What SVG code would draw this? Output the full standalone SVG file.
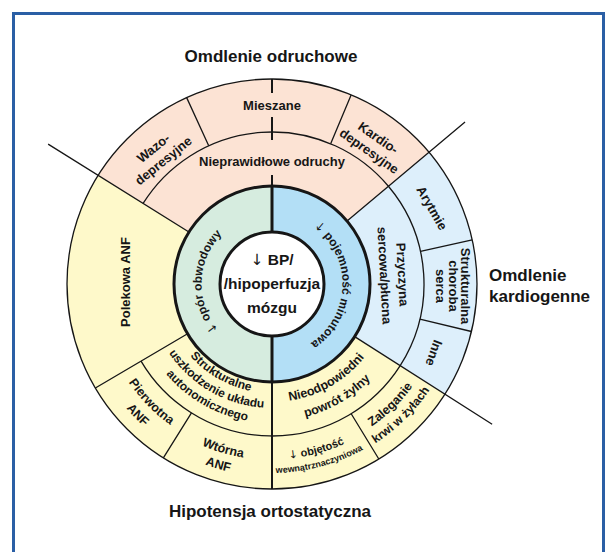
<svg xmlns="http://www.w3.org/2000/svg" width="608" height="552" viewBox="0 0 608 552">
<style>
text { font-family: "Liberation Sans", Arial, sans-serif; font-weight: bold; fill: #161616; font-size: 13px; text-anchor: middle; }
.ar { font-family: "DejaVu Sans", sans-serif; font-weight: normal; }
.title { font-size: 17px; }
.ctr { font-size: 15.5px; }
.ring { font-size: 12px; }
.s12 { font-size: 12px; }
.s125 { font-size: 12.5px; }
.s11 { font-size: 11px; }
.s9 { font-size: 9px; }
.ln { stroke: #161616; stroke-width: 1.3; fill: none; }
.vl { stroke: #161616; stroke-width: 2; fill: none; }
.tk { stroke: #161616; stroke-width: 3; fill: none; }
</style>
<defs>
<path id="pL" d="M245.59,349.37 A70.5,70.5 0 0 1 250.22,216.95"/>
<path id="pR" d="M297.84,218.41 A70.5,70.5 0 0 1 294.37,350.86"/>
<path id="s1" d="M166.71,312.21 A109,109 0 0 0 300.21,389.29"/>
<path id="s2" d="M152.23,316.09 A124,124 0 0 0 304.09,403.77"/>
<path id="s3" d="M137.74,319.97 A139,139 0 0 0 307.97,418.26"/>
<path id="n1" d="M241.46,397.98 A118,118 0 0 0 385.98,314.54"/>
<path id="n2" d="M236.54,416.33 A137,137 0 0 0 404.33,319.46"/>
<path id="p1" d="M98.49,297.05 A174.5,174.5 0 0 0 254.72,457.14"/>
<path id="p2" d="M81.04,298.36 A191.5,191.5 0 0 0 252.98,474.55"/>
<path id="w1" d="M125.23,381.13 A176,176 0 0 0 342.17,445.41"/>
<path id="w2" d="M111.47,390.24 A192.5,192.5 0 0 0 348.75,460.54"/>
<path id="o1" d="M197.83,443.06 A175.5,175.5 0 0 0 415.77,384.67"/>
<path id="o2" d="M192.13,455.29 A189,189 0 0 0 426.83,392.41"/>
<path id="z1" d="M285.65,457.46 A174,174 0 0 0 445.20,300.68"/>
<path id="z2" d="M286.91,473.41 A190,190 0 0 0 461.13,302.21"/>
</defs>
<rect width="608" height="552" fill="#ffffff"/>
<rect x="13.5" y="13.5" width="590" height="560" fill="none" stroke="#2a5fa5" stroke-width="3"/>

<g id="background">
<circle cx="272" cy="284" r="205" fill="#fef9ca"/>
<path id="sector-reflex" d="M98.16,175.37 A205,205 0 0 1 429.04,152.23 L347.07,221.01 A98,98 0 0 0 188.90,232.07 Z" fill="#fce3d4"/>
<path id="sector-cardiac" d="M429.04,152.23 A205,205 0 0 1 444.90,394.15 L354.65,336.66 A98,98 0 0 0 347.07,221.01 Z" fill="#ddeffb"/>
<circle cx="272" cy="284" r="205" class="ln" stroke-width="1.5"/>
</g>

<g id="connectors">
<path class="ln" d="M143.10,203.46 A152,152 0 0 1 388.43,186.29 A152,152 0 0 1 400.20,365.67 M141.04,361.14 A152,152 0 0 0 400.20,365.67"/>
<path class="ln" d="M48.13,144.11 L188.90,232.07 M465.03,122.01 L347.07,221.01 M492.13,424.24 L354.65,336.66 M95.37,388.04 L187.56,333.74"/>
<path class="ln" d="M208.72,145.80 L186.66,97.61 M330.66,143.78 L351.11,94.89 M420.46,251.37 L472.22,239.99 M419.87,319.22 L471.42,331.50 M191.46,412.90 L163.37,457.84 M351.19,413.73 L378.81,458.97"/>
<path class="vl" d="M272,79 V93 M272,117 V140 M272,175 V187 M272,381 V489"/>
</g>

<g id="ring">
<circle cx="272" cy="284" r="98" fill="#d6ecdf"/>
<path d="M272,186 A98,98 0 0 1 272,382 Z" fill="#b3dff6"/>
<circle cx="272" cy="284" r="98" class="tk"/>
<path class="tk" d="M272,186 V233 M272,335 V382"/>
</g>

<g id="center">
<circle cx="272" cy="284" r="52" class="tk" style="fill:#ffffff"/>
<text class="ctr" x="272" y="265"><tspan class="ar">↓</tspan> BP/</text>
<text class="ctr" x="272" y="289">/hipoperfuzja</text>
<text class="ctr" x="272" y="313">mózgu</text>
</g>

<g id="ring-labels">
<text class="ring"><textPath href="#pL" startOffset="50%"><tspan class="ar">↓</tspan> opór obwodowy</textPath></text>
<text class="ring"><textPath href="#pR" startOffset="50%"><tspan class="ar">↓</tspan> pojemność minutowa</textPath></text>
</g>

<g id="titles">
<text class="title" x="271" y="62">Omdlenie odruchowe</text>
<text class="title" x="489" y="281" style="text-anchor:start">Omdlenie</text>
<text class="title" x="489" y="302" style="text-anchor:start">kardiogenne</text>
<text class="title" x="270" y="517">Hipotensja ortostatyczna</text>
</g>

<g id="reflex">
<text x="272" y="110">Mieszane</text>
<text x="272" y="166">Nieprawidłowe odruchy</text>
<text transform="translate(158,154) rotate(-39)"><tspan x="0" y="-3">Wazo-</tspan><tspan x="0" y="13">depresyjne</tspan></text>
<text transform="translate(374,144) rotate(35)"><tspan x="0" y="-3">Kardio-</tspan><tspan x="0" y="13">depresyjne</tspan></text>
</g>

<g id="cardiac">
<text transform="translate(393,275) rotate(87)"><tspan x="0" y="-5">Przyczyna</tspan><tspan x="0" y="13">sercowa/płucna</tspan></text>
<text transform="translate(432,208) rotate(60)" y="4.5">Arytmie</text>
<text transform="translate(453,286) rotate(90)"><tspan x="0" y="-7.5">Strukturalna</tspan><tspan x="0" y="4.5">choroba</tspan><tspan x="0" y="17">serca</tspan></text>
<text transform="translate(434,353) rotate(110)" y="4.5">Inne</text>
</g>

<g id="orthostatic">
<text transform="translate(125,282) rotate(-90)" y="4.5">Polekowa ANF</text>
<text class="s12"><textPath href="#s1" startOffset="50%">Strukturalne</textPath></text>
<text class="s12"><textPath href="#s2" startOffset="50%">uszkodzenie układu</textPath></text>
<text class="s12"><textPath href="#s3" startOffset="50%">autonomicznego</textPath></text>
<text class="s125"><textPath href="#n1" startOffset="50%">Nieodpowiedni</textPath></text>
<text class="s125"><textPath href="#n2" startOffset="50%">powrót żylny</textPath></text>
<text class="s125"><textPath href="#p1" startOffset="50%">Pierwotna</textPath></text>
<text class="s125"><textPath href="#p2" startOffset="50%">ANF</textPath></text>
<text class="s125"><textPath href="#w1" startOffset="50%">Wtórna</textPath></text>
<text class="s125"><textPath href="#w2" startOffset="50%">ANF</textPath></text>
<text class="s11"><textPath href="#o1" startOffset="50%"><tspan class="ar">↓</tspan> objętość</textPath></text>
<text class="s9"><textPath href="#o2" startOffset="50%">wewnątrznaczyniowa</textPath></text>
<text class="s125"><textPath href="#z1" startOffset="50%">Zaleganie</textPath></text>
<text class="s12"><textPath href="#z2" startOffset="50%">krwi w żyłach</textPath></text>
</g>
</svg>
